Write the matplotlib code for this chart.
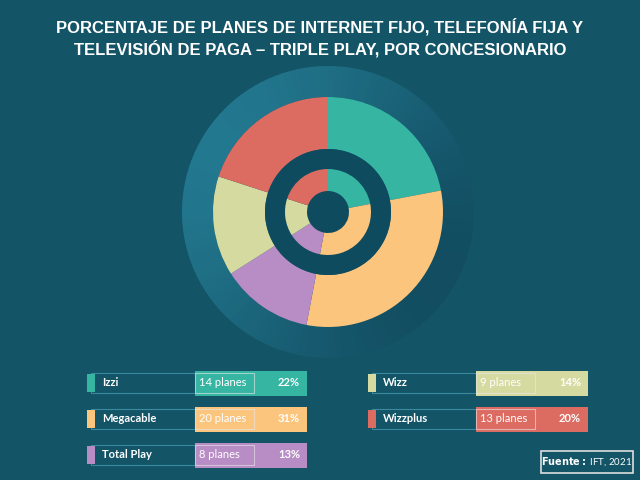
import matplotlib
matplotlib.use("Agg")
import matplotlib.pyplot as plt
from matplotlib.patches import Rectangle, Circle, Wedge
import matplotlib.colors as mcolors

names = ["Izzi", "Megacable", "Total Play", "Wizz", "Wizzplus"]
planes = [14, 20, 8, 9, 13]
pcts = [22, 31, 13, 14, 20]
colors = ["#35b5a2", "#fbc57e", "#b88cc4", "#d5dba0", "#dc6b62"]
title = "PORCENTAJE DE PLANES DE INTERNET FIJO, TELEFONÍA FIJA Y\nTELEVISIÓN DE PAGA – TRIPLE PLAY, POR CONCESIONARIO"

bg = "#135467"
fig = plt.figure(figsize=(6.4, 4.8), dpi=100, facecolor=bg)
ax = fig.add_axes([0, 0, 1, 1])
ax.set_facecolor(bg)

cx, cy = 328, 268
# outer gradient ring: light at left/top-left, dark at bottom-right
light = mcolors.to_rgb("#22788f")
dark = mcolors.to_rgb("#124d61")
import math
n = 120
for i in range(n):
    a0 = i * 360 / n
    mid = math.radians(a0 + 1.5)
    t = (1 + math.cos(mid - math.radians(150))) / 2
    col = tuple(dark[k] + (light[k] - dark[k]) * t for k in range(3))
    ax.add_patch(Wedge((cx, cy), 146, a0, a0 + 360 / n + 0.5, width=31, color=col, lw=0))
ax.pie(pcts, colors=colors, startangle=90, counterclock=False, center=(cx, cy), radius=115,
       wedgeprops=dict(width=52, lw=0), frame=True)
ax.add_patch(Circle((cx, cy), 63, color="#0f4b5e", lw=0))
ax.pie(pcts, colors=colors, startangle=90, counterclock=False, center=(cx, cy), radius=43,
       wedgeprops=dict(width=22, lw=0), frame=True)
ax.set_xlim(0, 640); ax.set_ylim(0, 480); ax.set_aspect("equal"); ax.axis("off")

fig.text(0.5, 0.962, title, ha="center", va="top", color="white", fontsize=12,
         fontweight="bold", family="Liberation Sans", linespacing=1.3)

pos = [(87, 383), (87, 419), (87, 455), (368, 383), (368, 419)]
for (x, yy), nm, p, q, c in zip(pos, names, planes, pcts, colors):
    y = 480 - yy
    ax.add_patch(Rectangle((x + 4, y - 10), 163, 20, fill=False, ec="#3a8a9e", lw=0.8))
    ax.add_patch(Rectangle((x, y - 9), 8, 18, color=c, lw=0))
    ax.add_patch(Rectangle((x + 108, y - 12.5), 112, 25, color=c, lw=0))
    ax.add_patch(Rectangle((x + 108, y - 10), 59, 20, fill=False, ec="#e8e8e8", lw=0.8, alpha=0.6))
    ax.text(x + 15, y, nm, color="white", fontsize=8, va="center", family="Lato", fontweight="bold")
    ax.text(x + 112, y, f"{p} planes", color="white", fontsize=8, va="center", family="Lato")
    ax.text(x + 213, y, f"{q}%", color="white", fontsize=8, va="center", ha="right",
            family="Lato", fontweight="bold")

ax.add_patch(Rectangle((541, 480 - 473), 92, 22, fill=False, ec="#dddddd", lw=1.2))
ax.text(587, 480 - 462, r"$\bf{Fuente:}$ IFT, 2021", color="white", fontsize=7, ha="center",
        va="center", family="Lato")

fig.savefig("out.png", dpi=100, facecolor=bg)
